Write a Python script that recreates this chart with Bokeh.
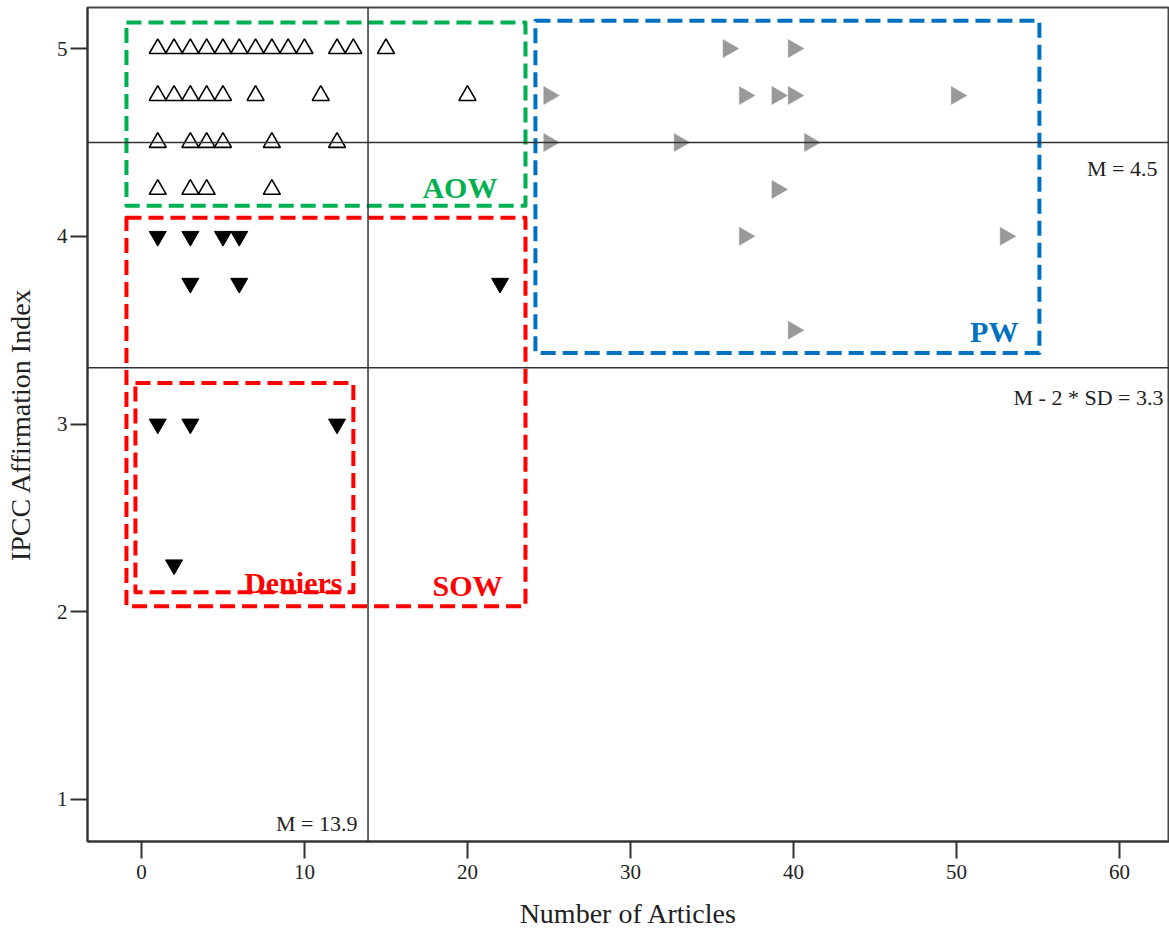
import numpy as np
from bokeh.plotting import figure
from bokeh.models import Range1d, Span, Label, FixedTicker
from bokeh.embed import file_html
from bokeh.resources import INLINE

# ---- data ----
# AOW (open triangles)
aow_x = [1, 2, 3, 4, 5, 6, 7, 8, 9, 10, 12, 13, 15,
         1, 2, 3, 4, 5, 7, 11, 20,
         1, 3, 4, 5, 8, 12,
         1, 3, 4, 8]
aow_y = [5] * 13 + [4.75] * 8 + [4.5] * 6 + [4.25] * 4

# SOW (black down triangles)
sow_x = [1, 3, 5, 6, 3, 6, 22, 1, 3, 12, 2]
sow_y = [4, 4, 4, 4, 3.75, 3.75, 3.75, 3, 3, 3, 2.25]

# PW (gray right triangles)
pw_x = [36, 40, 25, 37, 39, 40, 50, 25, 33, 41, 39, 37, 53, 40]
pw_y = [5, 5, 4.75, 4.75, 4.75, 4.75, 4.75, 4.5, 4.5, 4.5, 4.25, 4, 4, 3.5]

# reference values
mean_articles = 13.9
mean_index = 4.5
mean_minus_2sd = 3.3

# group boxes (left, right, bottom, top), label, colour
group_names = ["AOW", "SOW", "Deniers", "PW"]
group_left = [-0.92, -0.92, -0.37, 24.17]
group_right = [23.56, 23.56, 13.0, 55.09]
group_bottom = [4.163, 2.029, 2.104, 3.379]
group_top = [5.139, 4.099, 3.219, 5.149]
group_colors = ["#00B050", "#FF0000", "#FF0000", "#0070C0"]
label_x = [21.84, 22.15, 12.33, 53.8]
label_y = [4.259, 2.141, 2.157, 3.491]

x_ticks = [0, 10, 20, 30, 40, 50, 60]
y_ticks = [1, 2, 3, 4, 5]

FONT = "Liberation Serif"

p = figure(width=1169, height=935, output_backend="svg", toolbar_location=None,
           x_range=Range1d(-3.31, 63.07), y_range=Range1d(0.776, 5.219),
           min_border_left=87, min_border_right=0, min_border_top=7, min_border_bottom=94)
p.grid.visible = False
p.outline_line_color = "#444444"
p.outline_line_width = 2
p.background_fill_color = "white"
p.border_fill_color = "white"

for ax in (p.xaxis[0], p.yaxis[0]):
    ax.axis_line_color = "#333333"
    ax.axis_line_width = 2
    ax.major_tick_line_color = "#333333"
    ax.major_tick_line_width = 2
    ax.major_tick_out = 17
    ax.major_tick_in = 0
    ax.minor_tick_line_color = None
    ax.major_label_text_font = FONT
    ax.major_label_text_font_size = "21px"
    ax.major_label_text_color = "#222222"
    ax.axis_label_text_font = FONT
    ax.axis_label_text_font_size = "28px"
    ax.axis_label_text_font_style = "normal"
    ax.axis_label_text_color = "#222222"

p.xaxis.ticker = FixedTicker(ticks=x_ticks)
p.yaxis.ticker = FixedTicker(ticks=y_ticks)
p.xaxis.axis_label = "Number of Articles"
p.yaxis.axis_label = "IPCC Affirmation Index"
p.xaxis.major_label_standoff = 6
p.yaxis.major_label_standoff = 3
p.xaxis.axis_label_standoff = 16
p.yaxis.axis_label_standoff = 18

# reference lines
p.add_layout(Span(location=mean_articles, dimension="height", line_color="#333333", line_width=1.5))
p.add_layout(Span(location=mean_index, dimension="width", line_color="#333333", line_width=1.5))
p.add_layout(Span(location=mean_minus_2sd, dimension="width", line_color="#333333", line_width=1.5))

# markers
p.scatter(pw_x, pw_y, marker="triangle", angle=-np.pi / 2, size=18,
          fill_color="#999999", line_color="#999999", line_width=0.5)
p.scatter(sow_x, sow_y, marker="inverted_triangle", size=17,
          fill_color="black", line_color="black", line_width=1)
p.scatter(aow_x, aow_y, marker="triangle", size=17, fill_alpha=0,
          line_color="black", line_width=1.6)

# group boxes
for i in range(len(group_names)):
    p.quad(left=group_left[i], right=group_right[i], bottom=group_bottom[i], top=group_top[i],
           fill_alpha=0, line_color=group_colors[i], line_width=4, line_dash="15 7",
           line_join="round")
    p.add_layout(Label(x=label_x[i], y=label_y[i], text=group_names[i],
                       text_align="right", text_baseline="alphabetic",
                       text_font=FONT, text_font_style="bold", text_font_size="30px",
                       text_color=group_colors[i]))

# reference line labels
ref_texts = ["M = 4.5", "M - 2 * SD = 3.3", "M = 13.9"]
ref_x = [62.33, 62.7, 13.25]
ref_y = [4.36, 3.144, 0.872]
for t, xx, yy in zip(ref_texts, ref_x, ref_y):
    p.add_layout(Label(x=xx, y=yy, text=t, text_align="right", text_baseline="alphabetic",
                       text_font=FONT, text_font_size="22px", text_color="#222222"))

open("out.html", "w").write(file_html(p, INLINE))
